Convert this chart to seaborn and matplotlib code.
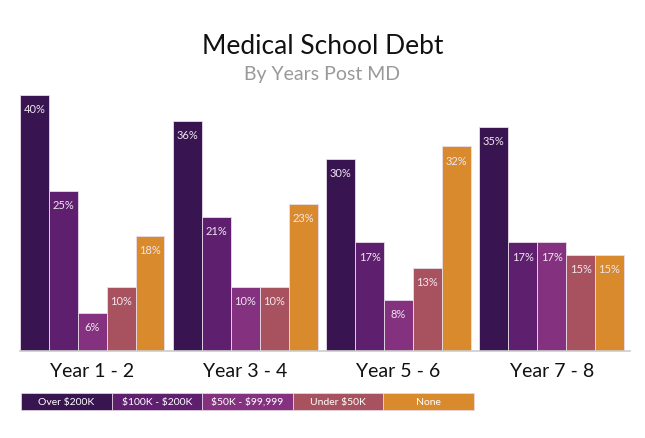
import pandas as pd
import numpy as np
import matplotlib.pyplot as plt
import seaborn as sns
from matplotlib.patches import Rectangle

years = ['Year 1 - 2', 'Year 3 - 4', 'Year 5 - 6', 'Year 7 - 8']
debt_levels = ['Over $200K', '$100K - $200K', '$50K - $99,999', 'Under $50K', 'None']
over_200k = [40, 36, 30, 35]
k100_200 = [25, 21, 17, 17]
k50_99 = [6, 10, 8, 17]
under_50k = [10, 10, 13, 15]
none = [18, 23, 32, 15]
colors = ['#381550', '#5e1f6f', '#84317f', '#a9525f', '#d98a2d']

data = pd.DataFrame({
    'Year': years * 5,
    'Debt': np.repeat(debt_levels, 4),
    'Pct': over_200k + k100_200 + k50_99 + under_50k + none,
})

sns.set_style('white')
plt.rcParams['font.family'] = ['Lato', 'DejaVu Sans']
plt.rcParams['text.parse_math'] = False

fig = plt.figure(figsize=(6.45, 4.39), dpi=100)
ax = fig.add_axes([20 / 645, 87 / 439, 610 / 645, 256 / 439])

sns.barplot(data=data, x='Year', y='Pct', hue='Debt', hue_order=debt_levels,
            palette=colors, width=0.943, gap=0, ax=ax, legend=False,
            edgecolor='#e9dcea', linewidth=0.6, saturation=1)

ax.set_ylim(0, 40)
ax.set_xlim(-0.4715, 3.4715 + 0.04)
ax.set_xlabel('')
ax.set_ylabel('')
ax.set_yticks([])
for s in ['top', 'left', 'right']:
    ax.spines[s].set_visible(False)
ax.spines['bottom'].set_color('#cccccc')
ax.spines['bottom'].set_linewidth(1.2)
ax.tick_params(axis='x', length=0, pad=8, labelsize=14, labelcolor='#111111')

# value labels inside bar tops
for cont in ax.containers:
    for bar in cont:
        h = bar.get_height()
        ax.annotate(f'{h:.0f}%', (bar.get_x() + bar.get_width() / 2, h),
                    xytext=(0, -10), textcoords='offset points',
                    ha='center', va='center', color='#f0e6f0', fontsize=8,
                    annotation_clip=False)

fig.text(0.5, 1 - 46 / 439, 'Medical School Debt', ha='center', va='center',
         fontsize=19, color='#111111')
fig.text(0.5, 1 - 75 / 439, 'By Years Post MD', ha='center', va='center',
         fontsize=14, color='#999999')

# legend strip
x0, bw, y0, bh = 21, 90.5, 439 - 411, 17
for i, (lab, c) in enumerate(zip(debt_levels, colors)):
    fig.patches.append(Rectangle(((x0 + i * bw) / 645, y0 / 439), bw / 645, bh / 439,
                                 transform=fig.transFigure, facecolor=c,
                                 edgecolor='#e9dcea', linewidth=0.5))
    fig.text((x0 + i * bw + bw / 2) / 645, (y0 + bh / 2) / 439, lab,
             ha='center', va='center', color='white', fontsize=7.5)

fig.savefig('out.png', dpi=100, facecolor='white')
